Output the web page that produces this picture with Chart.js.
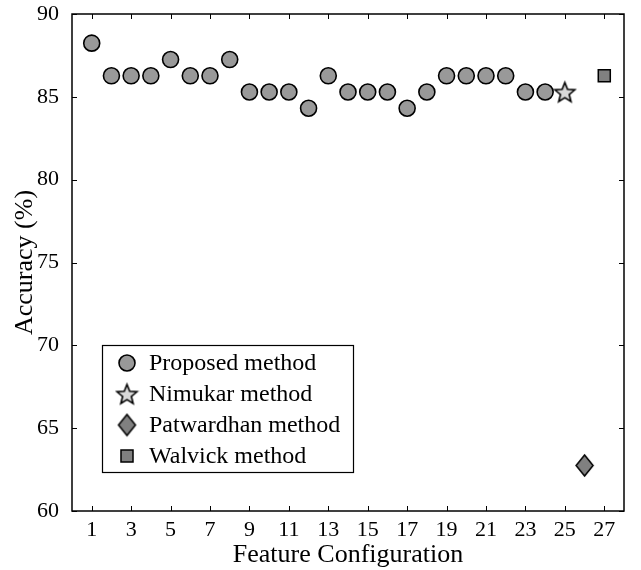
<!DOCTYPE html>
<html>
<head>
<meta charset="utf-8">
<script src="https://cdn.jsdelivr.net/npm/chart.js@4"></script>
<style>
  html, body { margin: 0; padding: 0; background: #fff; }
  #wrap { width: 641px; height: 570px; }
</style>
</head>
<body>
<div id="wrap"><canvas id="chart" width="641" height="570"></canvas></div>
<script>
// data
const configs = [1,2,3,4,5,6,7,8,9,10,11,12,13,14,15,16,17,18,19,20,21,22,23,24];
const proposed = [88.24,86.27,86.27,86.27,87.25,86.27,86.27,87.25,85.29,85.29,85.29,84.31,
                  86.27,85.29,85.29,85.29,84.31,85.29,86.27,86.27,86.27,86.27,85.29,85.29];
const nimukar = [{x: 25, y: 85.29}];
const patwardhan = [{x: 26, y: 62.75}];
const walvick = [{x: 27, y: 86.27}];
const xTicks = [1,3,5,7,9,11,13,15,17,19,21,23,25,27];
const yTicks = [60,65,70,75,80,85,90];

const FONT = '"Liberation Serif", "Times New Roman", serif';

// five pointed star as an image for pointStyle
function makeStar(r, fill) {
  const c = document.createElement('canvas');
  const s = Math.ceil(r * 2 + 4);
  c.width = s; c.height = s;
  const g = c.getContext('2d');
  const cx = s / 2, cy = s / 2 + 1, ri = r * 0.44;
  g.beginPath();
  for (let i = 0; i < 10; i++) {
    const a = -Math.PI / 2 + i * Math.PI / 5;
    const rr = i % 2 ? ri : r;
    g.lineTo(cx + rr * Math.cos(a), cy + rr * Math.sin(a));
  }
  g.closePath();
  g.fillStyle = fill;
  g.fill();
  g.lineWidth = 1.6;
  g.strokeStyle = '#000';
  g.stroke();
  return c;
}
// matlab style diamond, taller than wide
function makeDiamond(hw, hh, fill) {
  const c = document.createElement('canvas');
  c.width = Math.ceil(hw * 2 + 4); c.height = Math.ceil(hh * 2 + 4);
  const g = c.getContext('2d');
  const cx = c.width / 2, cy = c.height / 2;
  g.beginPath();
  g.moveTo(cx, cy - hh); g.lineTo(cx + hw, cy); g.lineTo(cx, cy + hh); g.lineTo(cx - hw, cy);
  g.closePath();
  g.fillStyle = fill;
  g.fill();
  g.lineWidth = 1.5;
  g.strokeStyle = '#000';
  g.stroke();
  return c;
}
const starImg = makeStar(10.5, '#d9d9d9');
const diamondImg = makeDiamond(8.5, 10.5, '#808080');

// frame + inward ticks on all four sides
const framePlugin = {
  id: 'frame',
  afterDraw(chart) {
    const { ctx, chartArea: a, scales } = chart;
    ctx.save();
    ctx.strokeStyle = '#000';
    ctx.lineWidth = 1.5;
    ctx.strokeRect(a.left, a.top, a.right - a.left, a.bottom - a.top);
    ctx.lineWidth = 1;
    ctx.beginPath();
    xTicks.forEach(v => {
      const px = Math.round(scales.x.getPixelForValue(v)) + 0.5;
      ctx.moveTo(px, a.bottom); ctx.lineTo(px, a.bottom - 5);
      ctx.moveTo(px, a.top); ctx.lineTo(px, a.top + 5);
    });
    yTicks.forEach(v => {
      const py = Math.round(scales.y.getPixelForValue(v)) + 0.5;
      ctx.moveTo(a.left, py); ctx.lineTo(a.left + 5, py);
      ctx.moveTo(a.right, py); ctx.lineTo(a.right - 5, py);
    });
    ctx.stroke();
    ctx.restore();
  }
};

// legend box inside the plot
const legendBox = {
  id: 'legendBox',
  afterDraw(chart) {
    const { ctx } = chart;
    const x0 = 102, y0 = 345, w = 251, h = 127;
    ctx.save();
    ctx.fillStyle = '#fff';
    ctx.fillRect(x0, y0, w, h);
    ctx.strokeStyle = '#000';
    ctx.lineWidth = 1.2;
    ctx.strokeRect(x0 + 0.5, y0 + 0.5, w, h);
    ctx.font = '24px ' + FONT;
    ctx.textBaseline = 'middle';
    chart.data.datasets.forEach((ds, i) => {
      const cy = y0 + 18 + i * 31;
      ctx.fillStyle = ds.pointBackgroundColor;
      ctx.strokeStyle = '#000';
      ctx.lineWidth = ds.pointBorderWidth;
      const opts = { pointStyle: ds.pointStyle, radius: ds.pointRadius, rotation: 0, borderWidth: ds.pointBorderWidth };
      Chart.helpers.drawPoint(ctx, opts, x0 + 25, cy);
      ctx.fillStyle = '#000';
      ctx.fillText(ds.label, x0 + 47, cy + 1);
    });
    ctx.restore();
  }
};

const data = {
  datasets: [
    {
      label: 'Proposed method',
      data: configs.map((c, i) => ({ x: c, y: proposed[i] })),
      pointStyle: 'circle',
      pointRadius: 8,
      pointBackgroundColor: '#999999',
      pointBorderColor: '#000',
      pointBorderWidth: 1.6,
      showLine: false
    },
    {
      label: 'Nimukar method',
      data: nimukar,
      pointStyle: starImg,
      pointRadius: 11,
      pointBackgroundColor: '#d9d9d9',
      pointBorderColor: '#000',
      pointBorderWidth: 1.6,
      showLine: false
    },
    {
      label: 'Patwardhan method',
      data: patwardhan,
      pointStyle: diamondImg,
      pointRadius: 11,
      pointBackgroundColor: '#808080',
      pointBorderColor: '#000',
      pointBorderWidth: 1.5,
      showLine: false
    },
    {
      label: 'Walvick method',
      data: walvick,
      pointStyle: 'rect',
      pointRadius: 8.5,
      pointBackgroundColor: '#808080',
      pointBorderColor: '#000',
      pointBorderWidth: 1.5,
      showLine: false
    }
  ]
};

const options = {
  responsive: false,
  animation: false,
  layout: { padding: { top: 14, right: 17, left: 0, bottom: 0 } },
  plugins: {
    legend: { display: false },
    tooltip: { enabled: false }
  },
  scales: {
    x: {
      type: 'linear',
      min: 0,
      max: 28,
      afterBuildTicks: s => { s.ticks = xTicks.map(v => ({ value: v })); },
      afterFit: s => { s.height = 59; },
      grid: { display: false },
      border: { display: false },
      ticks: { color: '#000', font: { family: FONT, size: 22, lineHeight: 1.0 }, padding: 0, maxRotation: 0, autoSkip: false },
      title: { display: true, text: 'Feature Configuration', color: '#000', font: { family: FONT, size: 26, lineHeight: 1.0 }, padding: { top: 0, bottom: 2 } }
    },
    y: {
      min: 60,
      max: 90,
      afterBuildTicks: s => { s.ticks = yTicks.map(v => ({ value: v })); },
      afterFit: s => { s.width = 72; s.paddingTop = 0; s.paddingBottom = 0; },
      grid: { display: false },
      border: { display: false },
      ticks: { color: '#000', font: { family: FONT, size: 22, lineHeight: 1.0 }, padding: 5 },
      title: { display: true, text: 'Accuracy (%)', color: '#000', font: { family: FONT, size: 26, lineHeight: 1.0 }, padding: { top: 12, bottom: 0 } }
    }
  }
};

new Chart(document.getElementById('chart'), {
  type: 'scatter',
  data: data,
  options: options,
  plugins: [framePlugin, legendBox]
});
</script>
</body>
</html>
